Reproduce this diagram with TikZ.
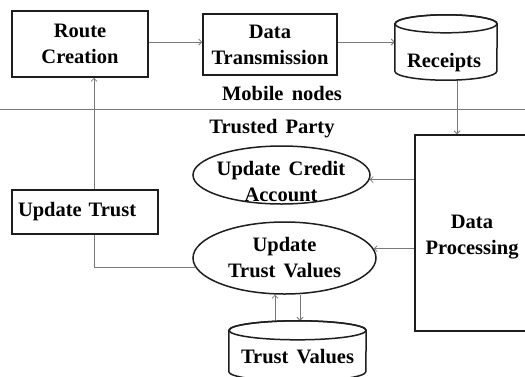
\documentclass[tikz,border=0pt]{standalone}
\usepackage{fontspec}
\setmainfont{Liberation Serif}[WordSpace=1.6]
\usetikzlibrary{shapes.geometric,arrows.meta}
\pgfdeclarelayer{bg}
\pgfsetlayers{bg,main}
\definecolor{bord}{RGB}{30,30,30}
\definecolor{conncol}{RGB}{120,120,120}
\newcommand\lblfont{\bfseries\fontsize{20.5}{26}\selectfont}
\tikzset{
  bx/.style={draw=bord, line width=1.5pt, fill=white, inner sep=0pt, align=center, font=\lblfont, text=black},
  el/.style={ellipse, draw=bord, line width=1.5pt, fill=white, inner sep=0pt, align=center, font=\lblfont, text=black},
  txt/.style={font=\lblfont, align=center, inner sep=0pt, text=black},
  cylarea/.style={inner sep=0pt},
  cylline/.style={draw=bord, line width=1.5pt},
  conn/.style={draw=conncol, line width=0.8pt, -{Straight Barb[length=3pt,width=6pt]}},
  sepline/.style={draw=conncol, line width=0.8pt}
}
\begin{document}
\begin{tikzpicture}[x=1pt,y=-1pt]
\useasboundingbox (0,0) rectangle (525,376);
% mobile nodes
\node[bx, minimum width=136pt, minimum height=66pt] (rc) at (80,44) {Route\\Creation};
\node[bx, minimum width=134pt, minimum height=61pt] (dt) at (270,44.5) {Data\\Transmission};
\node[cylarea, minimum width=102pt, minimum height=65pt] (rec) at (446,47.5) {};
\path[cylline, fill=white] ([yshift=-9pt]rec.north west) -- ([yshift=9pt]rec.south west)
  arc[start angle=180, end angle=360, x radius=51pt, y radius=9pt]
  -- ([yshift=-9pt]rec.north east)
  arc[start angle=0, end angle=180, x radius=51pt, y radius=9pt] -- cycle;
\draw[cylline] ([yshift=-9pt]rec.north) ellipse [x radius=51pt, y radius=9pt];
\node[txt, anchor=base] (rect) at (444,67) {Receipts};
\node[txt, anchor=base] (mob) at (282,100) {Mobile nodes};
\draw[sepline] (0,109) -- (525,109);
\node[txt, anchor=base] (tp) at (272,133) {Trusted Party};
% trusted party
\node[bx, minimum width=114pt, minimum height=196pt] (dp) at (472,233) {};
\node[txt] (dpt) at (472,237) {Data\\Processing};
\node[el, minimum width=177pt, minimum height=58pt] (uca) at (281.5,175) {};
\node[txt] (ucat) at (281,182) {Update Credit\\Account};
\node[bx, minimum width=146pt, minimum height=44pt, text width=134pt, align=left] (ut) at (85,212) {Update Trust};
\node[el, minimum width=183pt, minimum height=72pt] (utv) at (284.5,258) {Update\\Trust Values};
\node[cylarea, minimum width=137pt, minimum height=60pt] (tv) at (297.5,351) {};
\path[cylline, fill=white] ([yshift=-9.5pt]tv.north west) -- ([yshift=9.5pt]tv.south west)
  arc[start angle=180, end angle=360, x radius=68.5pt, y radius=9.5pt]
  -- ([yshift=-9.5pt]tv.north east)
  arc[start angle=0, end angle=180, x radius=68.5pt, y radius=9.5pt] -- cycle;
\draw[cylline] ([yshift=-9.5pt]tv.north) ellipse [x radius=68.5pt, y radius=9.5pt];
\node[txt, anchor=base] (tvt) at (297.5,363) {Trust Values};
% connectors
\coordinate (h1) at (0,42);
\coordinate (v1) at (457,0);
\coordinate (v2) at (94,0);
\coordinate (v3) at (275,0);
\coordinate (v4) at (300,0);
\begin{pgfonlayer}{bg}
\draw[conn] (h1 -| rc.east) -- (h1 -| dt.west);
\draw[conn] (h1 -| dt.east) -- (h1 -| rec.west);
\draw[conn] (v1 |- rec.south) -- (v1 |- dp.north);
\draw[conn] (uca.357 -| dp.west) -- (uca.357);
\draw[conn] (utv.6 -| dp.west) -- (utv.6);
\draw[conn] (utv.186) -| (v2 |- rc.south);
\draw[conn] (v3 |- tv.north) -- (v3 |- utv.south);
\draw[conn] (v4 |- utv.south) -- (v4 |- tv.north);
\end{pgfonlayer}
\end{tikzpicture}
\end{document}
